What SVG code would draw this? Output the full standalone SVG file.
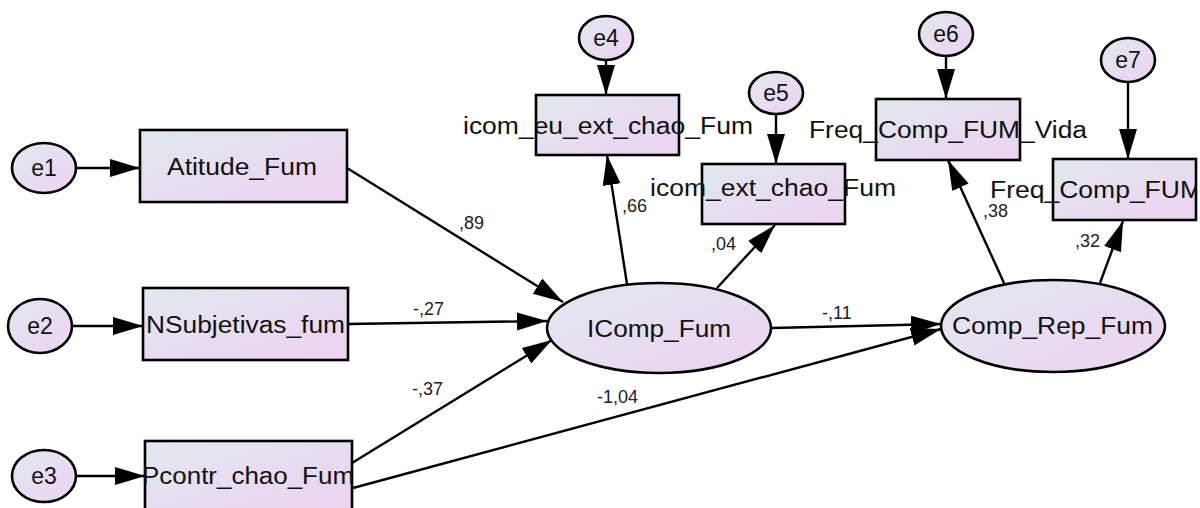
<svg xmlns="http://www.w3.org/2000/svg" width="1200" height="508" viewBox="0 0 1200 508">
<style>
.shape{stroke:#000;stroke-width:2.6;fill:url(#g)}
.lbl{font-family:"Liberation Sans",Arial,sans-serif;font-size:23px;fill:#111;text-anchor:middle}
.lab{font-family:"Liberation Sans",Arial,sans-serif;font-size:23px;fill:#111}
.coef{font-family:"Liberation Sans",Arial,sans-serif;font-size:18px;fill:#222}
.conn line{stroke:#000;stroke-width:2.4;marker-end:url(#ah)}
</style>
<defs>
<linearGradient id="g" x1="0" y1="0" x2="1" y2="1">
<stop offset="0" stop-color="#e2e8ee"/>
<stop offset="1" stop-color="#ecd2f2"/>
</linearGradient>
<marker id="ah" markerUnits="userSpaceOnUse" markerWidth="32" markerHeight="20" refX="30" refY="9" orient="auto">
<path d="M0,0 L30,9 L0,18 z" fill="#000"/>
</marker>
<clipPath id="clipR"><rect x="0" y="0" width="1196" height="508"/></clipPath>
</defs>
<rect width="1200" height="508" fill="#fff"/>

<g id="connectors" class="conn">
<line x1="76" y1="168" x2="140" y2="168"/>
<line x1="72" y1="326" x2="143" y2="326"/>
<line x1="76" y1="476" x2="145" y2="476"/>
<line x1="606" y1="60" x2="606" y2="95"/>
<line x1="776" y1="114" x2="776" y2="164"/>
<line x1="946" y1="56" x2="946" y2="99"/>
<line x1="1128" y1="82" x2="1128" y2="159"/>
<line x1="347" y1="168" x2="563" y2="302"/>
<line x1="348" y1="324" x2="547" y2="321"/>
<line x1="352" y1="463" x2="552" y2="340"/>
<line x1="353" y1="488" x2="941" y2="329"/>
<line x1="772" y1="328" x2="941" y2="324"/>
<line x1="627" y1="284" x2="607" y2="155"/>
<line x1="717" y1="288" x2="775" y2="225"/>
<line x1="1004" y1="283" x2="948" y2="160"/>
<line x1="1100" y1="283" x2="1123" y2="221"/>
</g>

<g id="e1"><ellipse class="shape" cx="44" cy="168" rx="32" ry="25"/><text class="lbl" x="44" y="176">e1</text></g>
<g id="e2"><ellipse class="shape" cx="40" cy="326" rx="32" ry="27"/><text class="lbl" x="40" y="334">e2</text></g>
<g id="e3"><ellipse class="shape" cx="44" cy="476" rx="32" ry="26"/><text class="lbl" x="44" y="484">e3</text></g>
<g id="e4"><ellipse class="shape" cx="606" cy="38" rx="27" ry="22"/><text class="lbl" x="606" y="46">e4</text></g>
<g id="e5"><ellipse class="shape" cx="776" cy="93" rx="27" ry="21"/><text class="lbl" x="776" y="101">e5</text></g>
<g id="e6"><ellipse class="shape" cx="946" cy="34" rx="27" ry="22"/><text class="lbl" x="946" y="42">e6</text></g>
<g id="e7"><ellipse class="shape" cx="1128" cy="60" rx="27" ry="22"/><text class="lbl" x="1128" y="68">e7</text></g>

<g id="Atitude_Fum"><rect class="shape" x="140" y="130" width="207" height="72"/><text class="lab" x="167" y="175" textLength="150" lengthAdjust="spacingAndGlyphs">Atitude_Fum</text></g>
<g id="NSubjetivas_fum"><rect class="shape" x="143" y="288" width="205" height="72"/><text class="lab" x="146" y="333" textLength="199" lengthAdjust="spacingAndGlyphs">NSubjetivas_fum</text></g>
<g id="Pcontr_chao_Fum"><rect class="shape" x="145" y="441" width="207" height="72"/><text class="lab" x="142" y="484" textLength="212" lengthAdjust="spacingAndGlyphs">Pcontr_chao_Fum</text></g>
<g id="icom_eu_ext_chao_Fum"><rect class="shape" x="536" y="95" width="143" height="60"/><text class="lab" x="463" y="134" textLength="290" lengthAdjust="spacingAndGlyphs">icom_eu_ext_chao_Fum</text></g>
<g id="icom_ext_chao_Fum"><rect class="shape" x="702" y="164" width="143" height="60"/><text class="lab" x="650" y="196" textLength="246" lengthAdjust="spacingAndGlyphs">icom_ext_chao_Fum</text></g>
<g id="Freq_Comp_FUM_Vida"><rect class="shape" x="876" y="99" width="144" height="61"/><text class="lab" x="809" y="138" textLength="278" lengthAdjust="spacingAndGlyphs">Freq_Comp_FUM_Vida</text></g>
<g id="Freq_Comp_FUM"><rect class="shape" x="1053" y="159" width="143" height="61"/><text class="lab" x="990" y="198" textLength="212" lengthAdjust="spacingAndGlyphs" clip-path="url(#clipR)">Freq_Comp_FUM</text></g>

<g id="IComp_Fum"><ellipse class="shape" cx="659" cy="328" rx="112" ry="45"/><text class="lab" x="587" y="337" textLength="144" lengthAdjust="spacingAndGlyphs">IComp_Fum</text></g>
<g id="Comp_Rep_Fum"><ellipse class="shape" cx="1053" cy="326" rx="112" ry="46"/><text class="lab" x="952" y="334" textLength="201" lengthAdjust="spacingAndGlyphs">Comp_Rep_Fum</text></g>

<g id="coefficients">
<text class="coef" x="459" y="229">,89</text>
<text class="coef" x="413" y="315">-,27</text>
<text class="coef" x="412" y="395">-,37</text>
<text class="coef" x="597" y="403">-1,04</text>
<text class="coef" x="822" y="319">-,11</text>
<text class="coef" x="622" y="212">,66</text>
<text class="coef" x="711" y="250">,04</text>
<text class="coef" x="983" y="217">,38</text>
<text class="coef" x="1075" y="247">,32</text>
</g>
</svg>
